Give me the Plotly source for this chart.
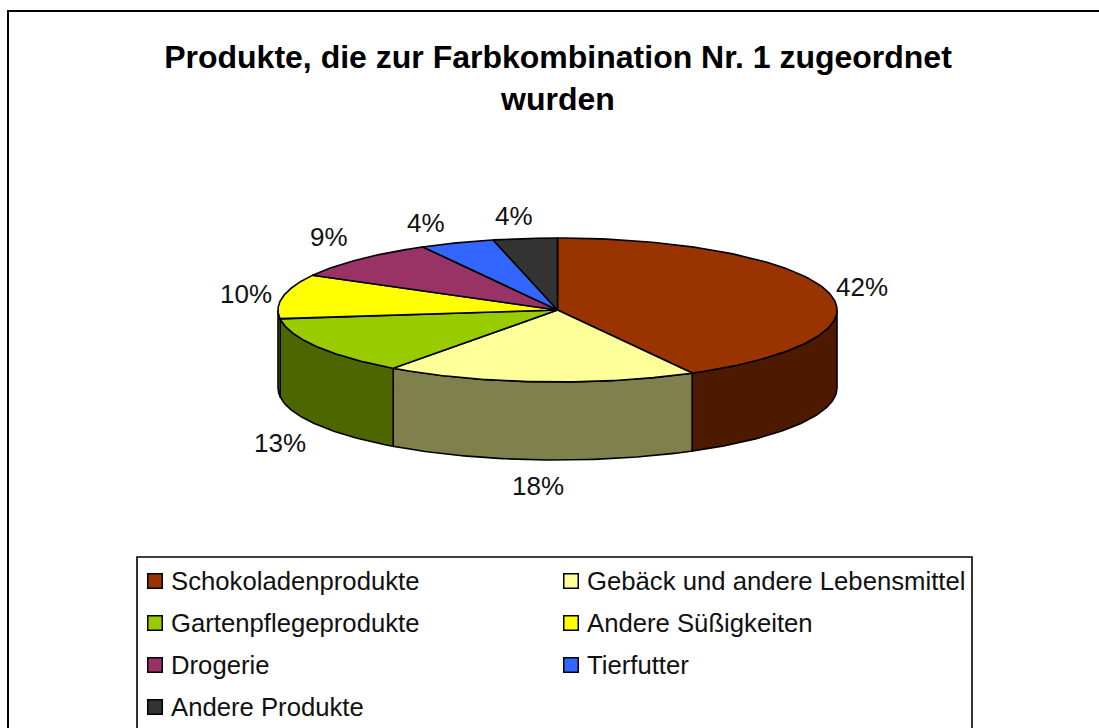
import numpy as np
import plotly.graph_objects as go

# --- data ---
categories = ["Schokoladenprodukte", "Gebäck und andere Lebensmittel", "Gartenpflegeprodukte",
              "Andere Süßigkeiten", "Drogerie", "Tierfutter", "Andere Produkte"]
values = [42.0, 18.0, 13.0, 10.0, 9.0, 4.3, 3.7]
top_colors = ["#993300", "#FFFF99", "#99CC00", "#FFFF00", "#993366", "#3366FF", "#333333"]
side_colors = ["#4D1A00", "#80804D", "#4D6600", "#808000", "#4D1A33", "#1A3380", "#1A1A1A"]
title_text = "<b>Produkte, die zur Farbkombination Nr. 1 zugeordnet<br>wurden</b>"

# --- layout (pixels) ---
W, H = 1099, 728
CX, CY, RX, RY, DEPTH = 557.5, 310, 279.5, 72, 78
label_shift = [(34, 5), (-2, -26), (-37, -18), (-37, 3), (-31, 22), (-31, 20), (-11, 22)]
legend_rows = [581, 623, 665, 707]
legend_cols = [155, 571]
legend_text_gap = 15
FONT = "Liberation Sans, Arial, sans-serif"
LINE = dict(color="black", width=1.6)


def rim(theta):
    """Clockwise from 12 o'clock, in degrees; pie units (x-radius = 1)."""
    t = np.radians(theta)
    return np.sin(t), np.cos(t) * RY / RX


fig = go.Figure()
edges = np.concatenate([[0], np.cumsum(values)]) * 3.6
depth_u = DEPTH / RX

# visible front wall: 90..270 degrees
for i, name in enumerate(categories):
    a, b = max(edges[i], 90), min(edges[i + 1], 270)
    if a < b:
        th = np.linspace(a, b, 80)
        x, y = rim(th)
        fig.add_trace(go.Scatter(
            x=np.concatenate([x, x[::-1], x[:1]]),
            y=np.concatenate([y, y[::-1] - depth_u, y[:1]]),
            mode="lines", fill="toself", fillcolor=side_colors[i], line=LINE,
            hoverinfo="skip", showlegend=False))

# top faces
for i, name in enumerate(categories):
    th = np.linspace(edges[i], edges[i + 1], 120)
    x, y = rim(th)
    fig.add_trace(go.Scatter(
        x=np.concatenate([[0], x, [0]]), y=np.concatenate([[0], y, [0]]),
        mode="lines", fill="toself", fillcolor=top_colors[i], line=LINE,
        name=name, hoverinfo="name", showlegend=False))

# percentage labels, anchored at the rim of each slice
for i, v in enumerate(values):
    mid = (edges[i] + edges[i + 1]) / 2
    x, y = rim(mid)
    if 90 < mid < 270:
        y = y - depth_u
    fig.add_annotation(x=float(x), y=float(y), text=f"{round(v)}%", showarrow=False,
                       xshift=label_shift[i][0], yshift=label_shift[i][1],
                       font=dict(family=FONT, size=26, color="#111111"))

# legend block on a pixel-scaled overlay axis
for i, name in enumerate(categories):
    lx, ly = legend_cols[i % 2], legend_rows[i // 2]
    fig.add_trace(go.Scatter(
        x=[lx], y=[ly], xaxis="x2", yaxis="y2", mode="markers", name=name,
        marker=dict(symbol="square", size=14.5, color=top_colors[i], line=dict(color="black", width=1.5)),
        hoverinfo="skip", showlegend=False, cliponaxis=False))
    fig.add_annotation(x=lx + legend_text_gap, y=ly, xref="x2", yref="y2", text=name,
                       xanchor="left", yanchor="middle", showarrow=False, borderpad=0,
                       font=dict(family=FONT, size=25.7, color="#111111"))

fig.update_layout(
    width=W, height=H, autosize=False, margin=dict(l=0, r=0, t=0, b=0),
    paper_bgcolor="white", plot_bgcolor="white", showlegend=False,
    title=dict(text=title_text, x=558 / W, xanchor="center", y=1 - 68 / H, yanchor="middle",
               font=dict(family=FONT, size=32, color="black")),
    xaxis=dict(range=[-CX / RX, (W - CX) / RX], visible=False, fixedrange=True),
    yaxis=dict(range=[(CY - H) / RX, CY / RX], visible=False, fixedrange=True),
    xaxis2=dict(range=[0, W], overlaying="x", visible=False, fixedrange=True),
    yaxis2=dict(range=[H, 0], overlaying="y", visible=False, fixedrange=True),
    shapes=[
        dict(type="rect", xref="x2", yref="y2", x0=8, y0=11, x1=W + 10, y1=H + 10,
             line=dict(color="black", width=2), layer="below"),
        dict(type="rect", xref="x2", yref="y2", x0=137, y0=557, x1=972, y1=H + 10,
             line=dict(color="black", width=1.6), layer="below"),
    ],
)
fig.write_html("out.html", config=dict(displayModeBar=False),
               post_script="document.body.style.margin='0';document.body.style.overflow='hidden';")
